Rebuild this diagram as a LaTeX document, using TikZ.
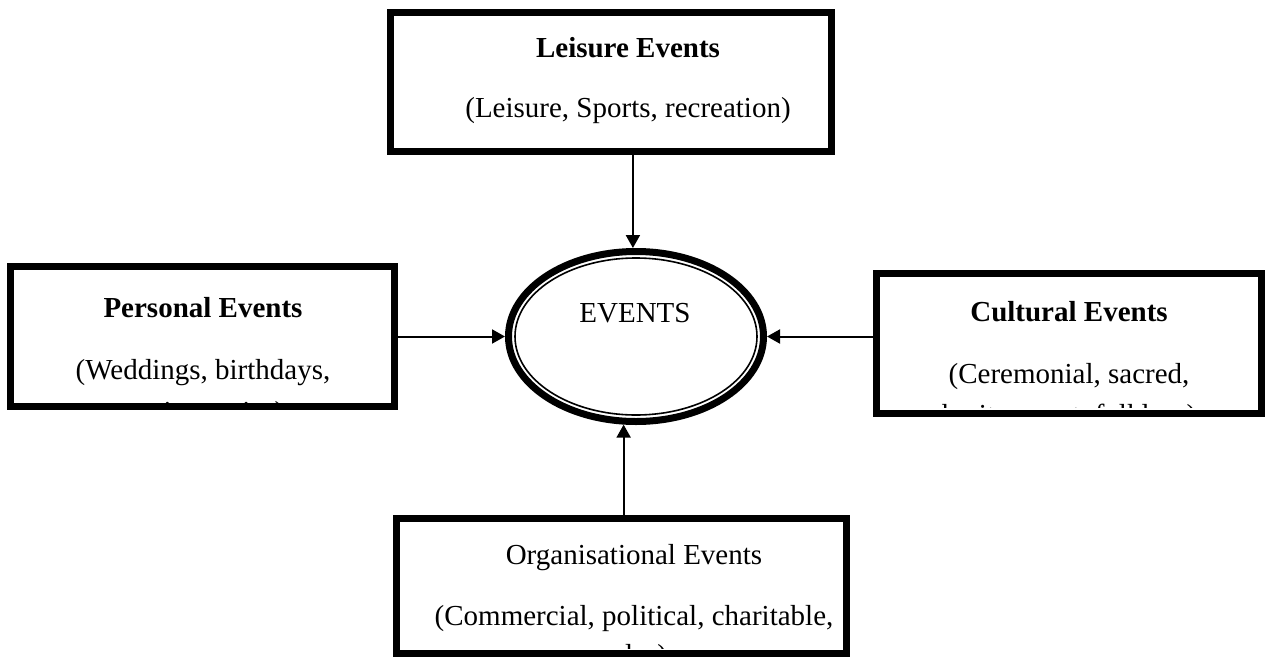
\documentclass[tikz,border=0pt]{standalone}
\usepackage{fontspec}
\setmainfont{Liberation Serif}
\usetikzlibrary{shapes.geometric,arrows.meta,calc}
\begin{document}
\begin{tikzpicture}[x=0.5pt,y=-0.5pt,
  box/.style={draw, line width=3.5pt, rectangle, inner sep=0pt, fill=white},
  txt/.style={anchor=base, inner sep=0pt, font=\fontsize{14.5pt}{17pt}\selectfont},
  ttl/.style={txt, font=\fontsize{14.5pt}{17pt}\selectfont\bfseries},
  arr/.style={draw, line width=1pt, -{Triangle[length=6.5pt,width=7pt]}}]
\useasboundingbox (0,0) rectangle (1270,659);

% boxes
\node[box, minimum width=220.5pt, minimum height=69.5pt] (leisure) at (611,82) {};
\node[box, minimum width=192pt, minimum height=70pt] (personal) at (202.5,336.5) {};
\node[box, minimum width=192.5pt, minimum height=70pt] (cultural) at (1069,343.5) {};
\node[box, minimum width=225pt, minimum height=67.5pt] (organis) at (621.5,586) {};

% central ellipse
\node[draw, ellipse, line width=3.5pt, inner sep=0pt, minimum width=127.5pt, minimum height=85pt] (events) at (636,336.5) {};
\draw[line width=0.8pt] (events.center) ellipse [x radius=121, y radius=78.5];
\node[txt] (eventstxt) at (635,322) {EVENTS};

% texts (clipped to box interiors)
\begin{scope}
\clip (394,16) rectangle (828,148);
\node[ttl] (l1) at (628,57) {Leisure Events};
\node[txt] (l2) at (628,117) {(Leisure, Sports, recreation)};
\end{scope}
\begin{scope}
\clip (15,270) rectangle (391,402);
\node[ttl] (p1) at (203,317) {Personal Events};
\node[txt] (p2) at (203,379) {(Weddings, birthdays,};
\node[txt] (p3) at (203,421) {anniversaries)};
\end{scope}
\begin{scope}
\clip (880,277) rectangle (1258,407);
\node[ttl] (c1) at (1069,321) {Cultural Events};
\node[txt] (c2) at (1069,383) {(Ceremonial, sacred,};
\node[txt] (c3) at (1069,424) {heritage, art, folklore)};
\end{scope}
\begin{scope}
\clip (400,522) rectangle (843,648);
\node[txt] (o1) at (634,564) {Organisational Events};
\node[txt] (o2) at (634,625) {(Commercial, political, charitable,};
\node[txt] (o3) at (634,664) {sales)};
\end{scope}

% connectors
\draw[arr] (leisure.south -| events.92) -- (events.92);
\draw[arr] (personal.east |- events.west) -- (events.west);
\draw[arr] (cultural.west |- events.east) -- (events.east);
\draw[arr] (organis.north -| events.262) -- (events.262);
\end{tikzpicture}
\end{document}
